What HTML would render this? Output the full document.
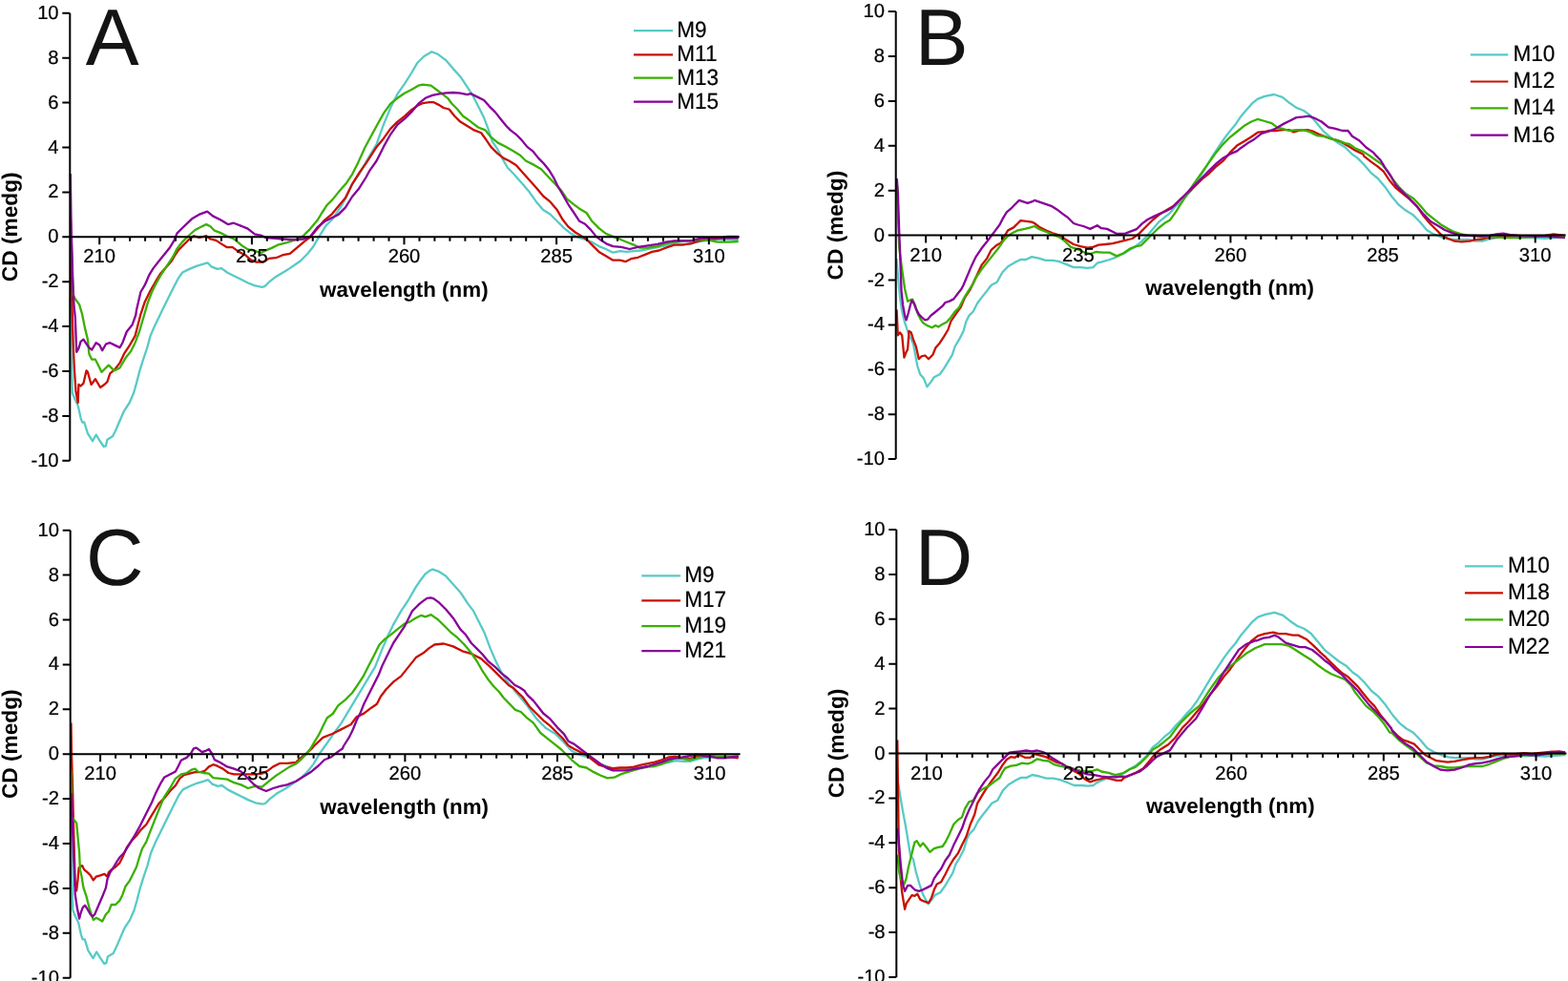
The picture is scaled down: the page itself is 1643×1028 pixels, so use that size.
<!DOCTYPE html><html><head><meta charset="utf-8"><style>html,body{margin:0;padding:0;background:#fff;overflow:hidden;}svg{display:block}text{font-family:"Liberation Sans",Arial,sans-serif;text-rendering:geometricPrecision;}.r{stroke:#000;stroke-width:0.22px;}</style></head><body>
<svg width="1643" height="1028" viewBox="0 0 1643 1028">
<rect width="1643" height="1028" fill="#fff"/>
<g><path d="M73.6,312 L74.2,345 L74.6,368 L75.8,411.8 L78.8,419.1 L81.7,424.9 L84.6,438.1 L86.1,442.5 L88.3,442.5 L91.9,454.2 L97,462.2 L100.7,455.6 L104.3,461.5 L108.7,468 L110.9,467.3 L112.4,460.7 L118.2,457.1 L121.1,451.2 L125.5,441 L129.9,430.8 L135.7,422 L140.1,411.8 L143,401.6 L146,389.9 L149.6,378.2 L154,365.1 L157.6,351.9 L162,341.7 L170.8,323.5 L176.6,311.8 L182.5,300.1 L186.9,291.4 L191.2,285.5 L198.5,281.9 L205.8,278.9 L213.2,276.7 L217.5,275.3 L221.9,279.7 L227.8,281.9 L232.1,281.1 L238,285.5 L245.3,289.2 L252.6,292.8 L259.9,296.5 L267.2,299.4 L274.5,300.8 L277.4,300.1 L281.8,295.7 L289.1,289.9 L297.9,284.8 L303.7,281.1 L310,276.7 L315.1,273.2 L322.4,265.8 L328.2,258.5 L334.1,248.3 L341.4,236.6 L348.7,229.3 L357.4,216.2 L363.3,206 L369.1,192.8 L376.4,182.6 L383.7,169.4 L394.6,151 L401.9,130.6 L409.2,113 L416.5,98.4 L423.8,88.2 L431.1,76.5 L437,66.3 L444.3,59 L452.3,54.2 L458.9,56.8 L467.6,63.4 L474.9,72.1 L482.3,80.2 L489.6,91.1 L495.4,99.9 L501.2,111.6 L507.1,123.3 L511.5,134.9 L515.8,148.1 L521.7,156.9 L526.1,165.6 L531.9,175.8 L537.8,181.7 L547.3,192.4 L554.6,201.1 L561.9,211.4 L569.2,220.1 L576.5,224.5 L583.8,231.8 L591.1,239.1 L598.4,244.9 L605.7,248.6 L613,250.8 L620.3,253.7 L627.6,258.1 L634.9,261 L642.3,264.7 L649.6,263.2 L656.9,263.9 L664.2,263.2 L671.5,262.5 L678.8,261 L686.1,259.6 L693.4,258.1 L700.7,256.6 L708,255.2 L715.3,255.9 L722.6,255.9 L729.9,253.7 L737.2,252.3 L744.5,251.5 L751.8,250.8 L762,250.8 L773.7,250.8" fill="none" stroke="#58cac6" stroke-width="2.3" stroke-linejoin="round"/><path d="M74,230 L74.4,273.8 L75.8,332.2 L76.6,359.2 L78,388.4 L79.5,410.3 L81.7,422 L82.4,403 L84.6,404.5 L87.5,401.6 L90.5,388.4 L91.9,389.9 L95.6,403 L99.9,397.2 L105.1,406 L109.4,403 L112.4,400.1 L115.3,391.4 L120.4,387 L125.5,380.4 L129.9,370.9 L135.7,362.1 L141.6,351.9 L147.4,329.3 L151.8,316.2 L157.6,304.5 L163.5,294.3 L167.9,287 L173.7,280.4 L179.6,273.8 L183.9,266.5 L186.9,262.1 L192.7,256.3 L198.5,250.5 L202.9,247.2 L208.8,249 L216.1,247.2 L220.5,250.5 L226.3,251.9 L232.1,255.6 L238,259.2 L243.8,259.2 L249.7,263.6 L257,267.2 L262.8,272.4 L268.7,274.6 L276,274.6 L281.8,270.9 L289.1,270.2 L296.4,267.2 L303.7,265.8 L319.4,252.7 L325.3,248.3 L332.6,239.6 L339.9,230.8 L347.2,224.9 L354.5,216.2 L361.8,207.4 L369.1,192.8 L376.4,181.1 L383.7,170.9 L394.6,153.9 L401.9,145.2 L409.2,134.9 L416.5,127.6 L423.8,121.8 L431.1,115.2 L438.4,110.1 L442.8,108.2 L450.1,107.2 L454.5,107.2 L460.3,110.1 L464.7,113 L470.6,114.5 L476.4,121.8 L482.3,127.6 L489.6,132 L496.9,136.4 L504.2,139.3 L508.5,145.2 L514.4,153.9 L521.7,161.2 L527.5,165.6 L533.4,168.5 L540.7,172.9 L561.9,196.7 L569.2,205.5 L576.5,211.4 L583.8,220.1 L589.7,230.3 L595.5,237.6 L602.8,243.5 L608.7,247.1 L614.5,250.8 L620.3,256.6 L627.6,263.9 L634.9,268.3 L642.3,272.7 L649.6,272.7 L655.4,274.2 L661.2,271.2 L668.5,269.8 L675.8,266.9 L683.2,263.9 L690.5,262.5 L697.8,259.6 L706.5,256.6 L715.3,256.6 L724.1,255.2 L732.8,252.3 L741.6,250.8 L751.8,250.1 L762,247.9 L773.7,247.9" fill="none" stroke="#c81000" stroke-width="2.3" stroke-linejoin="round"/><path d="M74,243 L74.4,244.6 L75.8,273.8 L76.6,308.9 L78.8,313.3 L83.1,319.1 L86.1,329.3 L89,343.9 L91.9,355.6 L93.4,370.9 L96.3,376.7 L99.9,376.7 L102.9,382.6 L106.5,389.9 L109.4,387 L113.8,382.6 L119.7,388.4 L125.5,385.5 L131.4,375.3 L137.2,368 L141.6,359.2 L146,347.5 L154.7,317.6 L159.1,306 L163.5,297.2 L169.3,287 L175.2,278.2 L181,269.4 L185.4,260.7 L191.2,253.4 L197.1,247.5 L204.4,241 L211.7,237.3 L216.1,235.1 L220.5,237.3 L224.8,241.7 L230.7,243.9 L238,247.5 L245.3,250.5 L254.1,257.8 L259.9,261.4 L267.2,262.9 L273,265.1 L277.4,262.9 L284.7,259.9 L292,256.3 L300.8,254.1 L310,251.2 L318,246.9 L325.3,239.6 L332.6,230.8 L337,223.5 L342.8,214.7 L348.7,208.9 L354.5,201.6 L363.3,191.4 L369.1,182.6 L375,170.9 L382.3,154.8 L394.6,132 L401.9,118.9 L409.2,108.7 L416.5,102.8 L423.8,97.7 L431.1,94 L438.4,89.7 L442.8,88.6 L451.6,89.7 L457.4,94 L463.3,98.4 L469.1,102.8 L473.5,108.7 L479.3,114.5 L485.2,121.8 L489.6,124.7 L495.4,129.1 L501.2,133.5 L508.5,136.4 L514.4,143.7 L521.7,149.6 L529,153.2 L537.8,158.3 L545.1,162.7 L550.9,168.5 L559.7,172.9 L567,177.3 L588.2,199.7 L594,208.4 L601.4,214.3 L607.2,218.7 L614.5,223 L620.3,231.8 L627.6,239.1 L634.9,244.9 L642.3,247.9 L649.6,250.8 L656.9,253.7 L664.2,256.6 L670,259.6 L678.8,259.6 L689,258.1 L697.8,255.2 L706.5,253.7 L715.3,252.3 L724.1,252.3 L732.8,250.8 L741.6,251.5 L751.8,253.7 L763.5,253.7 L773.7,253" fill="none" stroke="#3ab000" stroke-width="2.3" stroke-linejoin="round"/><path d="M73.8,182 L74.5,230 L76,290 L77.5,320 L78.8,332.3 L80.2,368.8 L82.4,365.1 L84.6,357.8 L87.5,355.6 L89.7,359.2 L93.4,364.3 L96.3,366.5 L100.7,359.2 L104.3,361.4 L107.2,367.2 L110.9,360.7 L115.3,359.2 L121.1,362.1 L125.5,364.3 L128.4,359.2 L132.8,347.5 L138.7,340.2 L142.3,330 L143,324.9 L147.4,306 L151.8,298.7 L156.2,288.4 L160.6,281.1 L166.4,273.8 L172.3,266.5 L178.1,259.2 L182.5,251.9 L185.4,244.6 L191.2,238.8 L201.1,229.3 L208.4,224.9 L217.2,221.7 L223,226.4 L231.8,230.8 L239.1,235.2 L244.9,233.7 L252.3,236.6 L259.6,239.6 L266.9,245.4 L274.2,246.9 L278.5,249.1 L288.8,249.8 L296.1,250.5 L304.8,251.2 L310.7,251.2 L318,250.5 L325.3,247.6 L332.6,238.1 L339.9,232.3 L345.7,229.3 L354.5,224.9 L361.8,217.6 L369.1,206 L376.4,197.2 L383.7,185.5 L387.3,178.8 L394.6,168.5 L401.9,153.9 L409.2,140.8 L416.5,130.6 L423.8,124.7 L431.1,117.4 L438.4,108.7 L445.7,102.8 L453,99.9 L460.3,98.4 L467.6,97.4 L474.9,97 L482.3,97.7 L489.6,99.2 L493.2,98.1 L499.8,101.4 L507.1,105 L512.9,111.6 L518.8,117.4 L524.6,124.7 L530.5,132 L534.8,136.4 L540.7,140.8 L546.5,146.6 L552.4,153.9 L558.2,158.3 L564.1,165.6 L569.9,171.5 L575.7,178.8 L580.1,186.1 L583.8,193.8 L589.7,204 L595.5,214.3 L601.4,223 L607.2,231.8 L613,234.7 L618.9,240.6 L624.7,247.9 L630.6,252.3 L636.4,255.9 L642.3,258.1 L651,258.8 L659.8,261 L668.5,258.8 L678.8,257.4 L689,255.9 L697.8,253.7 L706.5,252.3 L715.3,252.3 L724.1,252.3 L732.8,250.1 L741.6,249.3 L751.8,249.3 L762,249.3 L773.7,249.3" fill="none" stroke="#880099" stroke-width="2.3" stroke-linejoin="round"/><path d="M73.3,13.8 V482.8 M65.3,248.3 H774.7 M65.3,482.8 H73.3 M65.3,435.9 H73.3 M65.3,389 H73.3 M65.3,342.1 H73.3 M65.3,295.2 H73.3 M65.3,201.4 H73.3 M65.3,154.5 H73.3 M65.3,107.6 H73.3 M65.3,60.7 H73.3 M65.3,13.8 H73.3 M104.2,248.3 v8 M120.2,248.3 v4.5 M136.1,248.3 v4.5 M152.1,248.3 v4.5 M168.1,248.3 v4.5 M184,248.3 v4.5 M200,248.3 v4.5 M216,248.3 v4.5 M231.9,248.3 v4.5 M247.9,248.3 v4.5 M263.9,248.3 v8 M279.8,248.3 v4.5 M295.8,248.3 v4.5 M311.7,248.3 v4.5 M327.7,248.3 v4.5 M343.7,248.3 v4.5 M359.6,248.3 v4.5 M375.6,248.3 v4.5 M391.6,248.3 v4.5 M407.5,248.3 v4.5 M423.5,248.3 v8 M439.5,248.3 v4.5 M455.4,248.3 v4.5 M471.4,248.3 v4.5 M487.4,248.3 v4.5 M503.3,248.3 v4.5 M519.3,248.3 v4.5 M535.3,248.3 v4.5 M551.2,248.3 v4.5 M567.2,248.3 v4.5 M583.1,248.3 v8 M599.1,248.3 v4.5 M615.1,248.3 v4.5 M631,248.3 v4.5 M647,248.3 v4.5 M663,248.3 v4.5 M678.9,248.3 v4.5 M694.9,248.3 v4.5 M710.9,248.3 v4.5 M726.8,248.3 v4.5 M742.8,248.3 v8 M758.8,248.3 v4.5" fill="none" stroke="#000" stroke-width="2"/><text x="61.6" y="488.8" font-size="20.2" text-anchor="end" class="r">-10</text><text x="61.6" y="441.9" font-size="20.2" text-anchor="end" class="r">-8</text><text x="61.6" y="395" font-size="20.2" text-anchor="end" class="r">-6</text><text x="61.6" y="348.1" font-size="20.2" text-anchor="end" class="r">-4</text><text x="61.6" y="301.2" font-size="20.2" text-anchor="end" class="r">-2</text><text x="61.6" y="254.3" font-size="20.2" text-anchor="end" class="r">0</text><text x="61.6" y="207.4" font-size="20.2" text-anchor="end" class="r">2</text><text x="61.6" y="160.5" font-size="20.2" text-anchor="end" class="r">4</text><text x="61.6" y="113.6" font-size="20.2" text-anchor="end" class="r">6</text><text x="61.6" y="66.7" font-size="20.2" text-anchor="end" class="r">8</text><text x="61.6" y="19.8" font-size="20.2" text-anchor="end" class="r">10</text><text x="104.2" y="275.3" font-size="20.2" text-anchor="middle" class="r">210</text><text x="263.9" y="275.3" font-size="20.2" text-anchor="middle" class="r">235</text><text x="423.5" y="275.3" font-size="20.2" text-anchor="middle" class="r">260</text><text x="583.1" y="275.3" font-size="20.2" text-anchor="middle" class="r">285</text><text x="742.8" y="275.3" font-size="20.2" text-anchor="middle" class="r">310</text><text x="423.3" y="310.7" font-size="22.4" font-weight="bold" text-anchor="middle">wavelength (nm)</text><text transform="translate(17.7,237.8) rotate(-90)" font-size="22.7" font-weight="bold" text-anchor="middle">CD (medg)</text><text x="89.8" y="67.7" font-size="83.8" fill="#141414">A</text><path d="M664,32.1 H705" stroke="#58cac6" stroke-width="2.2"/><text transform="translate(709.3,39) scale(0.955,1)" font-size="23.6" class="r">M9</text><path d="M664,57.4 H705" stroke="#c81000" stroke-width="2.2"/><text transform="translate(709.3,64.2) scale(0.955,1)" font-size="23.6" class="r">M11</text><path d="M664,81.6 H705" stroke="#3ab000" stroke-width="2.2"/><text transform="translate(709.3,88.5) scale(0.955,1)" font-size="23.6" class="r">M13</text><path d="M664,106.7 H705" stroke="#880099" stroke-width="2.2"/><text transform="translate(709.3,113.6) scale(0.955,1)" font-size="23.6" class="r">M15</text></g>
<g><path d="M939.4,271 L943,311.9 L945.2,326.5 L948.1,338.2 L951.1,347 L954,354.3 L956.9,360.1 L959.1,371.8 L961.3,383.5 L964.2,392.3 L967.9,396.6 L971.5,405.4 L975.9,399.6 L978.8,395.2 L984.7,392.3 L989,386.4 L993.4,379.1 L997.8,371.8 L1000.7,363 L1005.1,355.7 L1009.5,347 L1012.4,336.7 L1015.3,330.9 L1019.7,326.5 L1024.1,317.8 L1028.5,311.9 L1034.3,304.6 L1038.7,298.8 L1044.6,295.8 L1050.4,285.2 L1056.2,279.3 L1063.5,274.9 L1069.4,272 L1075.2,272 L1081.1,269.1 L1088.4,270.6 L1095.7,272.8 L1103,272.8 L1110.3,274.2 L1117.6,277.1 L1124.9,280.1 L1132.2,280.1 L1139.5,280.8 L1145.3,280.1 L1149.7,275.7 L1155.6,274.2 L1162.9,272 L1168.7,269.8 L1177.4,265.7 L1183.5,262.1 L1189.6,258.4 L1195.6,253.6 L1201.7,247.5 L1207.8,240.2 L1213.9,232.9 L1220,228 L1226.1,223.1 L1232.2,215.8 L1237.6,211.9 L1247.4,200.2 L1253.2,192.4 L1259.1,182.7 L1264.9,173 L1270.8,163.2 L1276.6,154.5 L1282.4,145.7 L1288.3,137.9 L1294.1,131.1 L1300,122.3 L1305.8,115.5 L1311.7,108.7 L1317.5,103.8 L1325.3,100.9 L1335,99 L1343.8,101.9 L1351.1,107.8 L1358.4,112.9 L1365.7,115.8 L1373,120.9 L1380.3,129.7 L1387.6,138.4 L1394.9,144.3 L1402.3,150.1 L1409.6,154.5 L1416.9,161.8 L1421.9,165.1 L1429.2,172.4 L1436.5,181.1 L1443.8,187 L1451.1,195.7 L1458.4,206 L1465.7,214.7 L1473,220.6 L1480.3,224.9 L1487.6,232.3 L1494.9,241 L1502.3,245.4 L1509.6,248.3 L1516.9,250.5 L1524.2,251.2 L1531.5,251.2 L1538.8,251.2 L1546.1,252.7 L1553.4,252.7 L1560.7,250.5 L1568,249.1 L1575.3,248.3 L1582.6,249.1 L1589.9,249.1 L1604.5,249.1 L1619.1,249.8 L1640,248.3" fill="none" stroke="#58cac6" stroke-width="2.3" stroke-linejoin="round"/><path d="M939.6,324.5 L940.8,351.4 L943,348.4 L945.2,351.4 L947.4,374.7 L949.6,368.9 L951.1,366 L952.5,347 L954.7,348.4 L956.9,355.7 L959.8,363 L962.8,376.2 L965.7,373.3 L969.3,372.5 L973,376.2 L977.4,371.8 L980.3,364.5 L984.7,359.4 L989,352.8 L993.4,345.5 L996.4,336.7 L1002.2,328 L1006.6,322.1 L1011,311.9 L1016.8,303.1 L1028.5,277.9 L1034.3,270.6 L1038.7,261.8 L1044.6,256.7 L1048.9,254.5 L1051.9,248.7 L1056.2,241.4 L1062.1,238.4 L1066.5,234 L1069.4,231.1 L1075.2,231.9 L1081.1,232.6 L1084,234 L1089.8,238.4 L1095.7,241.4 L1103,244.3 L1110.3,246.5 L1117.6,251.6 L1124.9,256 L1132.2,258.1 L1139.5,259.6 L1145.3,258.9 L1151.2,256.7 L1158.5,256 L1165.8,255.2 L1186.5,250 L1193.8,244.6 L1201.1,237.3 L1208.4,230 L1215.7,224.2 L1223,219.8 L1230.3,215.4 L1237.6,208.1 L1244.9,202.3 L1252.3,194.9 L1259.6,187.6 L1266.9,181.8 L1274.2,174.5 L1281.5,168.7 L1288.8,159.9 L1296.1,152.6 L1303.4,148.2 L1310.7,143.8 L1318,138.7 L1325.3,138 L1329.2,137 L1336.5,137 L1343.8,136.2 L1351.1,136.2 L1355.5,138.4 L1361.4,136.7 L1370.1,136.2 L1376,137.7 L1381.8,140.6 L1387.6,142.8 L1393.5,145 L1399.3,146.5 L1405.2,148.7 L1413.9,153.8 L1419.8,157.4 L1428.5,161.8 L1429.2,163.6 L1436.5,169.4 L1443.8,174.6 L1449.7,179.7 L1455.5,188.4 L1462.8,197.2 L1470.1,203 L1477.4,208.9 L1484.7,216.2 L1490.6,224.9 L1497.9,233.7 L1505.2,241 L1511,246.9 L1516.9,249.8 L1524.2,252.7 L1531.5,253.4 L1540.2,252.7 L1546.1,251.2 L1553.4,250.5 L1560.7,248.3 L1568,248.3 L1575.3,247.6 L1589.9,246.9 L1604.5,247.6 L1619.1,246.9 L1627.9,245.4 L1640,246.9" fill="none" stroke="#c81000" stroke-width="2.3" stroke-linejoin="round"/><path d="M940.2,195 L940.8,223.8 L942.3,260.3 L945.2,282.3 L948.1,302.7 L951.1,315.8 L954,314.4 L956.2,313.7 L959.1,320.2 L961.3,328 L964.2,333.8 L967.1,338.2 L971.5,341.1 L976.6,343.3 L980.3,341.1 L983.2,342.6 L987.6,339.7 L992,337.5 L996.4,332.4 L1000.7,326.5 L1005.1,322.1 L1009.5,313.4 L1013.9,306.1 L1019.7,297.3 L1022.6,291 L1028.5,282.3 L1034.3,274.9 L1040.2,267.6 L1046,260.3 L1051.9,251.6 L1056.2,247.2 L1060.6,244.3 L1066.5,241.4 L1073.8,239.9 L1079.6,238.4 L1084,237 L1088.4,239.9 L1095.7,242.8 L1103,245.7 L1110.3,248.7 L1116.1,253 L1122,258.9 L1129.3,261.1 L1136.6,264.7 L1142.4,266.2 L1148.3,264 L1155.6,264.7 L1162.9,264.7 L1170.2,268.4 L1177.4,265.3 L1183.5,260.9 L1189.6,258.4 L1195.6,257.2 L1201.7,251.1 L1207.8,245 L1213.9,239 L1220,234.1 L1226.1,230.4 L1232.2,221.9 L1238.2,212.2 L1239.1,211 L1246.4,199.3 L1252.3,190.6 L1259.6,180.3 L1266.9,170.1 L1274.2,159.9 L1281.5,151.1 L1288.8,143.8 L1296.1,138 L1303.4,132.1 L1310.7,127.8 L1318,124.8 L1325.3,127 L1332.6,129.2 L1338.4,133.6 L1343.8,134.8 L1351.1,137 L1358.4,136.2 L1365.7,136.2 L1373,138.4 L1380.3,142.1 L1387.6,142.8 L1394.9,145.7 L1402.3,147.2 L1409.6,150.1 L1413.9,150.8 L1419.8,155.2 L1428.5,158.9 L1433.6,162.1 L1440.9,167.2 L1448.2,172.4 L1454,179.7 L1459.9,188.4 L1465.7,195.7 L1473,203 L1480.3,207.4 L1487.6,214.7 L1494.9,223.5 L1502.3,229.3 L1509.6,235.2 L1516.9,239.6 L1524.2,243.2 L1531.5,245.4 L1538.8,246.9 L1546.1,247.6 L1553.4,248.3 L1560.7,247.6 L1575.3,249.1 L1589.9,249.1 L1604.5,248.3 L1619.1,247.6 L1640,246.9" fill="none" stroke="#3ab000" stroke-width="2.3" stroke-linejoin="round"/><path d="M939.8,187 L940.8,201.9 L941.6,223.8 L942.3,245.7 L943,261.8 L944.5,304.6 L946,319.2 L948.1,330.9 L949.6,335.3 L951.8,328 L954,319.2 L955.5,314.8 L957.6,317.8 L959.8,323.6 L962.8,329.4 L965.7,332.4 L969.3,335.3 L972.2,334.6 L975.2,330.9 L978.8,328 L983.2,324.3 L987.6,320.7 L990.5,317 L994.9,315.6 L999.3,313.4 L1003.7,307.5 L1007.3,303.1 L1009.5,298.8 L1018.3,277.9 L1022.6,269.1 L1028.5,260.3 L1034.3,253 L1038.7,247.2 L1043.1,241.4 L1047.5,235.5 L1050.4,229.7 L1054.8,222.4 L1059.2,218.7 L1063.5,214.3 L1067.9,209.9 L1072.3,211.4 L1076.7,212.9 L1081.1,211.4 L1084,209.9 L1088.4,211.4 L1092.8,212.9 L1097.1,214.3 L1101.5,215.8 L1107.4,219.4 L1113.2,223.8 L1119.1,228.2 L1124.9,234 L1129.3,235.5 L1135.1,237 L1142.4,239.9 L1149.7,236.2 L1154.1,239.2 L1160,239.9 L1165.8,242.8 L1170.2,245 L1179.2,244.6 L1185.1,242.4 L1190.9,240.2 L1196.7,234.4 L1202.6,230 L1208.4,227.1 L1214.3,224.2 L1221.6,221.2 L1227.4,218.3 L1233.3,212.5 L1240.6,205.2 L1246.4,199.3 L1252.3,193.5 L1259.6,186.2 L1266.9,178.9 L1274.2,171.6 L1281.5,165.7 L1288.8,161.4 L1296.1,158.4 L1300,155.2 L1307.3,150.1 L1314.6,145.7 L1321.9,139.9 L1329.2,137.7 L1336.5,134.8 L1343.8,130.4 L1351.1,126.7 L1358.4,123.1 L1365.7,122.4 L1371.6,121.6 L1377.4,123.8 L1384.7,127.5 L1392,133.3 L1399.3,134.8 L1406.6,137 L1412.5,137 L1416.9,142.8 L1424.2,147.2 L1431.5,154.5 L1438.8,159.6 L1440.9,162.1 L1446.7,168 L1451.1,175.3 L1457,184 L1462.8,194.3 L1470.1,201.6 L1477.4,208.9 L1484.7,216.2 L1492,224.9 L1499.3,232.3 L1506.6,236.6 L1513.9,241 L1521.2,243.9 L1528.5,246.1 L1535.8,246.9 L1546.1,246.9 L1553.4,247.6 L1560.7,246.9 L1568,245.4 L1575.3,244.7 L1582.6,246.1 L1589.9,246.9 L1604.5,247.6 L1619.1,247.6 L1640,249.1" fill="none" stroke="#880099" stroke-width="2.3" stroke-linejoin="round"/><path d="M938.7,12.1 V481.1 M930.7,246.6 H1640.6 M930.7,481.1 H938.7 M930.7,434.2 H938.7 M930.7,387.3 H938.7 M930.7,340.4 H938.7 M930.7,293.5 H938.7 M930.7,199.7 H938.7 M930.7,152.8 H938.7 M930.7,105.9 H938.7 M930.7,59 H938.7 M930.7,12.1 H938.7 M970.1,246.6 v8 M986.1,246.6 v4.5 M1002,246.6 v4.5 M1018,246.6 v4.5 M1034,246.6 v4.5 M1049.9,246.6 v4.5 M1065.9,246.6 v4.5 M1081.9,246.6 v4.5 M1097.8,246.6 v4.5 M1113.8,246.6 v4.5 M1129.8,246.6 v8 M1145.7,246.6 v4.5 M1161.7,246.6 v4.5 M1177.6,246.6 v4.5 M1193.6,246.6 v4.5 M1209.6,246.6 v4.5 M1225.5,246.6 v4.5 M1241.5,246.6 v4.5 M1257.5,246.6 v4.5 M1273.4,246.6 v4.5 M1289.4,246.6 v8 M1305.4,246.6 v4.5 M1321.3,246.6 v4.5 M1337.3,246.6 v4.5 M1353.3,246.6 v4.5 M1369.2,246.6 v4.5 M1385.2,246.6 v4.5 M1401.2,246.6 v4.5 M1417.1,246.6 v4.5 M1433.1,246.6 v4.5 M1449,246.6 v8 M1465,246.6 v4.5 M1481,246.6 v4.5 M1496.9,246.6 v4.5 M1512.9,246.6 v4.5 M1528.9,246.6 v4.5 M1544.8,246.6 v4.5 M1560.8,246.6 v4.5 M1576.8,246.6 v4.5 M1592.7,246.6 v4.5 M1608.7,246.6 v8 M1624.7,246.6 v4.5" fill="none" stroke="#000" stroke-width="2"/><text x="927" y="487.1" font-size="20.2" text-anchor="end" class="r">-10</text><text x="927" y="440.2" font-size="20.2" text-anchor="end" class="r">-8</text><text x="927" y="393.3" font-size="20.2" text-anchor="end" class="r">-6</text><text x="927" y="346.4" font-size="20.2" text-anchor="end" class="r">-4</text><text x="927" y="299.5" font-size="20.2" text-anchor="end" class="r">-2</text><text x="927" y="252.6" font-size="20.2" text-anchor="end" class="r">0</text><text x="927" y="205.7" font-size="20.2" text-anchor="end" class="r">2</text><text x="927" y="158.8" font-size="20.2" text-anchor="end" class="r">4</text><text x="927" y="111.9" font-size="20.2" text-anchor="end" class="r">6</text><text x="927" y="65" font-size="20.2" text-anchor="end" class="r">8</text><text x="927" y="18.1" font-size="20.2" text-anchor="end" class="r">10</text><text x="970.1" y="273.6" font-size="20.2" text-anchor="middle" class="r">210</text><text x="1129.8" y="273.6" font-size="20.2" text-anchor="middle" class="r">235</text><text x="1289.4" y="273.6" font-size="20.2" text-anchor="middle" class="r">260</text><text x="1449" y="273.6" font-size="20.2" text-anchor="middle" class="r">285</text><text x="1608.7" y="273.6" font-size="20.2" text-anchor="middle" class="r">310</text><text x="1288.7" y="309" font-size="22.4" font-weight="bold" text-anchor="middle">wavelength (nm)</text><text transform="translate(883.1,236.1) rotate(-90)" font-size="22.7" font-weight="bold" text-anchor="middle">CD (medg)</text><text x="958.7" y="67.7" font-size="83.8" fill="#141414">B</text><path d="M1540.8,57.3 H1580.3" stroke="#58cac6" stroke-width="2.2"/><text transform="translate(1585.4,64.2) scale(0.955,1)" font-size="23.6" class="r">M10</text><path d="M1540.8,85.5 H1580.3" stroke="#c81000" stroke-width="2.2"/><text transform="translate(1585.4,92.4) scale(0.955,1)" font-size="23.6" class="r">M12</text><path d="M1540.8,113.3 H1580.3" stroke="#3ab000" stroke-width="2.2"/><text transform="translate(1585.4,120.2) scale(0.955,1)" font-size="23.6" class="r">M14</text><path d="M1540.8,141.6 H1580.3" stroke="#880099" stroke-width="2.2"/><text transform="translate(1585.4,148.5) scale(0.955,1)" font-size="23.6" class="r">M16</text></g>
<g><path d="M74.1,853.9 L74.7,886.9 L75.1,909.9 L76.3,953.7 L79.3,961 L82.2,966.8 L85.1,980 L86.6,984.4 L88.8,984.4 L92.4,996.1 L97.5,1004.1 L101.2,997.5 L104.8,1003.4 L109.2,1009.9 L111.4,1009.2 L112.9,1002.6 L118.7,999 L121.6,993.1 L126,982.9 L130.4,972.7 L136.2,963.9 L140.6,953.7 L143.5,943.5 L146.5,931.8 L150.1,920.1 L154.5,907 L158.1,893.8 L162.5,883.6 L171.3,865.4 L177.1,853.7 L183,842 L187.4,833.3 L191.7,827.4 L199,823.8 L206.3,820.8 L213.7,818.6 L218,817.2 L222.4,821.6 L228.3,823.8 L232.6,823 L238.5,827.4 L245.8,831.1 L253.1,834.7 L260.4,838.4 L267.7,841.3 L275,842.7 L277.9,842 L282.3,837.6 L289.6,831.8 L298.4,826.7 L304.2,823 L310.5,818.6 L315.6,815.1 L322.9,807.7 L328.7,800.4 L334.6,790.2 L340.4,782 L348.2,770.9 L357.9,757.3 L363.7,747.6 L369.6,737.8 L375.4,728.1 L381.3,718.3 L387.1,708.6 L393,698.9 L396.9,689.1 L400.8,679.4 L404.7,670.6 L406.6,665.7 L409.5,659.9 L412.4,654.1 L416.3,647.2 L420.2,640.4 L424.1,634.6 L428,628.7 L431.9,621.9 L435.8,615.1 L439.7,609.3 L445.6,601.5 L449.4,598.6 L453.3,596.6 L459.2,598.6 L467,603.4 L474.8,612.2 L482.6,621 L490.3,632.6 L496.2,640.4 L502,652.1 L507.9,663.8 L513.7,679.4 L519.6,693 L525.4,704.7 L533.2,716.4 L542.9,728.1 L552.7,739.8 L562.4,753.4 L572.1,763.1 L581.9,769 L591.6,778.7 L598.9,786.8 L606.2,790.5 L613.5,792.7 L620.8,795.6 L628.1,800 L635.4,802.9 L642.8,806.6 L650.1,805.1 L657.4,805.8 L664.7,805.1 L672,804.4 L679.3,802.9 L686.6,801.5 L693.9,800 L701.2,798.5 L708.5,797.1 L715.8,797.8 L723.1,797.8 L730.4,795.6 L737.7,794.2 L745,793.4 L752.3,792.7 L762.5,792.7 L774.2,792.7" fill="none" stroke="#58cac6" stroke-width="2.3" stroke-linejoin="round"/><path d="M74.5,757.5 L75,790 L75.8,815.8 L77.3,874.3 L78.8,927.5 L80.2,933.4 L81.7,920.2 L82.6,909.4 L85.3,907.5 L86.1,907.1 L88.3,911.4 L91.9,914.4 L94.8,917.3 L97.8,922.4 L100.7,918.7 L105.1,917.3 L109.4,915.8 L112.4,918.7 L113.8,914.4 L116.7,911.4 L121.1,908.5 L125.5,904.1 L128.4,898.3 L132.8,888.1 L138.7,880.1 L143,875.7 L147.4,869.9 L153.3,864 L157.6,856.7 L162,849.4 L166.4,842.1 L172.3,836.3 L178.1,829 L183.9,823.1 L188.3,815.8 L192.7,812.2 L198.5,810.7 L204.4,809.2 L210.2,809.2 L214.6,807.8 L219,803.4 L223.4,801.2 L227.8,802.7 L233.6,805.6 L239.4,810 L245.3,811.4 L252.6,811.4 L259.9,811.4 L267.2,811.4 L274.5,810.7 L280.3,807.8 L286.2,803.4 L293.5,799.8 L300.8,799.8 L310,799 L312.1,796.9 L316.5,793.2 L320.9,789.6 L326.7,784.5 L328.7,782 L338.4,772.9 L348.2,769 L357.9,764.1 L367.6,759.2 L373.5,751.4 L381.3,747.6 L389.1,741.7 L394.9,737.8 L398.8,730 L404.7,722.2 L412.4,714.4 L420.2,708.6 L428,698.9 L435.8,689.1 L443.6,684.3 L449.4,679.4 L455.3,675.5 L465,674.5 L474.8,677.4 L484.5,682.3 L494.2,685.2 L504,690.1 L513.7,698.9 L523.5,708.6 L533.2,718.3 L537.8,720.8 L543.6,726.6 L547.3,730 L554.6,740.2 L561.9,747.5 L569.2,754.8 L576.5,760.7 L583.8,768 L589.7,773.8 L595.5,781.1 L601.4,784.8 L608.7,788.4 L616,792.1 L621.8,797.2 L627.6,801.6 L634.9,803.7 L642.3,805.2 L649.6,804.5 L656.9,804.5 L664.2,803.7 L671.5,801.6 L678.8,800.1 L686.1,798.6 L693.4,796.4 L700.7,793.5 L708,792.8 L715.3,794.3 L722.6,795 L729.9,792.8 L737.2,792.1 L744.5,792.1 L751.8,792.8 L759.1,792.8 L766.4,793.5 L773.7,794.3" fill="none" stroke="#c81000" stroke-width="2.3" stroke-linejoin="round"/><path d="M74.5,807.7 L75.1,855.3 L80.2,862.6 L83.1,893.2 L83.9,911.4 L85.3,917.3 L87.5,930.4 L90.5,939.2 L93.4,950.9 L96.3,959.6 L97.8,964 L100.7,961.8 L103.6,963.3 L107.2,965.5 L110.9,958.2 L113.8,955.3 L116.7,948 L121.1,948 L125.5,943.6 L128.4,937.7 L131.4,929 L135.7,923.1 L138.7,917.3 L143,908.5 L146,898.3 L148.9,889.5 L153.3,882.2 L156.2,874.3 L162,859.6 L167.9,845 L172.3,834.8 L178.1,826 L183.9,815.8 L189.8,811.4 L195.6,810 L201.5,806.3 L204.4,805.6 L207.3,808.5 L213.2,810 L219,810.7 L223.4,815.1 L230.7,815.8 L238,816.6 L245.3,820.2 L252.6,822.4 L259.9,826 L267.2,823.9 L274.5,824.6 L281.8,818.7 L289.1,812.9 L297.9,807.1 L303.7,803.4 L310,800.5 L315.1,796.2 L320.9,790.3 L325.3,784.5 L329.7,777.2 L334.1,769.9 L338.4,761.1 L342.8,752.3 L348.7,748 L354.5,739.2 L361.8,733.4 L369.1,726 L375,717.3 L380.8,708.5 L385.2,699.8 L391.7,687.2 L397.5,675.5 L403.4,669.6 L409.2,665.3 L416.5,659.4 L423.8,653.6 L429.7,651.4 L435.5,647.7 L441.4,644.8 L445.7,646.3 L451.6,644.1 L458.9,649.2 L464.7,655 L472,662.3 L479.3,668.2 L486.6,675.5 L493.9,684.3 L499.8,693 L505.6,703.2 L511.5,712 L517.3,719.3 L523.2,725.2 L527.5,731 L540,743.9 L545.8,746 L551.7,751.9 L559,757.7 L566.3,768 L573.6,773.8 L580.9,779.6 L588.2,785.5 L594,791.3 L599.9,797.2 L607.2,803 L614.5,804.5 L621.8,808.9 L629.1,812.5 L636.4,815.4 L643.7,814.7 L651,811.1 L658.3,808.9 L665.6,806.7 L671.5,805.2 L678.8,803.7 L686.1,803 L693.4,800.8 L700.7,797.9 L708,794.3 L715.3,795 L722.6,796.4 L729.9,794.3 L737.2,792.8 L744.5,792.1 L751.8,792.8 L759.1,792.8 L766.4,792.8 L773.7,792.1" fill="none" stroke="#3ab000" stroke-width="2.3" stroke-linejoin="round"/><path d="M74.5,831 L78.8,937.7 L81,952.3 L83.1,962.6 L84.6,956.7 L86.8,950.9 L89,948.7 L91.9,953.1 L94.8,958.2 L97,960.4 L99.2,958.2 L103.6,948 L108,937.7 L110.9,930.4 L112.4,921.7 L115.3,914.4 L118.2,910 L122.6,902.7 L125.5,898.3 L129.9,893.9 L134.3,886.6 L138.7,879.3 L140.1,877.2 L146,866.9 L150.3,858.2 L154.7,849.4 L159.1,840.7 L163.5,830.4 L167.9,821.7 L172.3,814.4 L178.1,811.4 L183.9,808.5 L186.9,802.7 L189.8,796.8 L195.6,793.9 L200,789.5 L202.9,784.4 L205.8,783.7 L211.7,788.1 L216.1,786.6 L219,785.1 L221.9,789.5 L224.8,796.1 L230.7,799 L238,803.4 L245.3,805.6 L252.6,808.5 L259.9,815.8 L265.7,821.7 L271.6,826 L278.9,829 L286.2,826 L293.5,823.9 L300.8,822.4 L310,818.7 L318,813.7 L325.3,809.3 L334.1,802 L339.9,796.2 L347.2,793.2 L354.5,787.4 L358.9,784.5 L359.9,782 L365.7,772.9 L369.6,765.1 L373.5,755.3 L377.4,747.6 L381.3,737.8 L385.2,730 L389.1,722.2 L393,714.4 L396.9,706.7 L400.8,696.9 L404.7,689.1 L408.5,681.3 L412.4,673.5 L416.3,667.7 L420.2,661.9 L424.1,656 L428,648.2 L431.9,640.4 L435.8,636.5 L439.7,632.6 L443.6,629.7 L447.5,626.8 L451.4,626.4 L454.5,627.3 L460.3,631.7 L467.6,639 L474.9,647.7 L482.3,659.4 L488.1,665.3 L493.9,674 L499.8,679.9 L505.6,685.7 L511.5,693 L518.8,698.9 L526.1,706.2 L531.9,710.5 L539.2,717.8 L545.1,720.8 L549.4,723.7 L552.4,728.1 L559,734.4 L564.8,741.7 L569.2,747.5 L576.5,753.4 L583.8,762.1 L591.1,769.4 L595.5,776.7 L601.4,779.6 L607.2,784 L613,788.4 L618.9,792.8 L624.7,797.2 L630.6,801.6 L636.4,805.2 L642.3,807.4 L649.6,807.4 L656.9,807.4 L664.2,805.9 L671.5,804.5 L678.8,803 L686.1,800.8 L693.4,798.6 L700.7,795.7 L708,794.3 L715.3,793.5 L722.6,792.1 L729.9,790.6 L737.2,792.1 L744.5,792.8 L751.8,794.3 L759.1,794.3 L766.4,793.5 L773.7,792.8" fill="none" stroke="#880099" stroke-width="2.3" stroke-linejoin="round"/><path d="M73.7,555.7 V1024.7 M65.7,790.2 H775.6 M65.7,1024.7 H73.7 M65.7,977.8 H73.7 M65.7,930.9 H73.7 M65.7,884 H73.7 M65.7,837.1 H73.7 M65.7,743.3 H73.7 M65.7,696.4 H73.7 M65.7,649.5 H73.7 M65.7,602.6 H73.7 M65.7,555.7 H73.7 M105.1,790.2 v8 M121.1,790.2 v4.5 M137,790.2 v4.5 M153,790.2 v4.5 M169,790.2 v4.5 M184.9,790.2 v4.5 M200.9,790.2 v4.5 M216.9,790.2 v4.5 M232.8,790.2 v4.5 M248.8,790.2 v4.5 M264.8,790.2 v8 M280.7,790.2 v4.5 M296.7,790.2 v4.5 M312.6,790.2 v4.5 M328.6,790.2 v4.5 M344.6,790.2 v4.5 M360.5,790.2 v4.5 M376.5,790.2 v4.5 M392.5,790.2 v4.5 M408.4,790.2 v4.5 M424.4,790.2 v8 M440.4,790.2 v4.5 M456.3,790.2 v4.5 M472.3,790.2 v4.5 M488.3,790.2 v4.5 M504.2,790.2 v4.5 M520.2,790.2 v4.5 M536.2,790.2 v4.5 M552.1,790.2 v4.5 M568.1,790.2 v4.5 M584,790.2 v8 M600,790.2 v4.5 M616,790.2 v4.5 M631.9,790.2 v4.5 M647.9,790.2 v4.5 M663.9,790.2 v4.5 M679.8,790.2 v4.5 M695.8,790.2 v4.5 M711.8,790.2 v4.5 M727.7,790.2 v4.5 M743.7,790.2 v8 M759.7,790.2 v4.5" fill="none" stroke="#000" stroke-width="2"/><text x="62" y="1030.7" font-size="20.2" text-anchor="end" class="r">-10</text><text x="62" y="983.8" font-size="20.2" text-anchor="end" class="r">-8</text><text x="62" y="936.9" font-size="20.2" text-anchor="end" class="r">-6</text><text x="62" y="890" font-size="20.2" text-anchor="end" class="r">-4</text><text x="62" y="843.1" font-size="20.2" text-anchor="end" class="r">-2</text><text x="62" y="796.2" font-size="20.2" text-anchor="end" class="r">0</text><text x="62" y="749.3" font-size="20.2" text-anchor="end" class="r">2</text><text x="62" y="702.4" font-size="20.2" text-anchor="end" class="r">4</text><text x="62" y="655.5" font-size="20.2" text-anchor="end" class="r">6</text><text x="62" y="608.6" font-size="20.2" text-anchor="end" class="r">8</text><text x="62" y="561.7" font-size="20.2" text-anchor="end" class="r">10</text><text x="105.1" y="817.2" font-size="20.2" text-anchor="middle" class="r">210</text><text x="264.8" y="817.2" font-size="20.2" text-anchor="middle" class="r">235</text><text x="424.4" y="817.2" font-size="20.2" text-anchor="middle" class="r">260</text><text x="584" y="817.2" font-size="20.2" text-anchor="middle" class="r">285</text><text x="743.7" y="817.2" font-size="20.2" text-anchor="middle" class="r">310</text><text x="423.7" y="852.6" font-size="22.4" font-weight="bold" text-anchor="middle">wavelength (nm)</text><text transform="translate(18.1,779.7) rotate(-90)" font-size="22.7" font-weight="bold" text-anchor="middle">CD (medg)</text><text x="89.9" y="612.6" font-size="83.8" fill="#141414">C</text><path d="M672.3,603.3 H713.1" stroke="#58cac6" stroke-width="2.2"/><text transform="translate(717.2,610.2) scale(0.955,1)" font-size="23.6" class="r">M9</text><path d="M672.3,629.3 H713.1" stroke="#c81000" stroke-width="2.2"/><text transform="translate(717.2,636.2) scale(0.955,1)" font-size="23.6" class="r">M17</text><path d="M672.3,656.1 H713.1" stroke="#3ab000" stroke-width="2.2"/><text transform="translate(717.2,663) scale(0.955,1)" font-size="23.6" class="r">M19</text><path d="M672.3,682.1 H713.1" stroke="#880099" stroke-width="2.2"/><text transform="translate(717.2,689) scale(0.955,1)" font-size="23.6" class="r">M21</text></g>
<g><path d="M940.2,815.1 L942.9,831.8 L945.7,848.4 L948.5,863.2 L951.3,879.8 L954,896.5 L956.8,900.1 L959.6,913.1 L963.3,926 L967,937.1 L972.5,947.3 L976.5,942.5 L979.4,938.1 L985.3,935.2 L989.6,929.3 L994,922 L998.4,914.7 L1001.3,905.9 L1005.7,898.6 L1010.1,889.9 L1013,879.6 L1015.9,873.8 L1020.3,869.4 L1024.7,860.7 L1029.1,854.8 L1034.9,847.5 L1039.3,841.7 L1045.2,838.7 L1051,828.1 L1056.8,822.2 L1064.1,817.8 L1070,814.9 L1075.8,814.9 L1081.7,812 L1089,813.5 L1096.3,815.7 L1103.6,815.7 L1110.9,817.1 L1118.2,820 L1125.5,823 L1132.8,823 L1140.1,823.7 L1145.9,823 L1148.2,820.9 L1153,818.5 L1159.1,816 L1165.2,813.6 L1171.3,814.2 L1177.4,810 L1183.5,806.3 L1189.6,802.6 L1195.6,797.8 L1201.7,791.7 L1207.8,783.2 L1213.9,778.3 L1220,772.2 L1226.1,767.3 L1232.2,760 L1238.2,754 L1244.3,746.7 L1248,743.1 L1253.8,735.3 L1259.7,725.6 L1265.5,715.9 L1271.4,706.1 L1277.2,697.4 L1283,688.6 L1288.9,680.8 L1294.7,674 L1300.6,665.2 L1306.4,658.4 L1312.3,651.6 L1318.1,646.7 L1325.9,643.8 L1335.6,641.9 L1344.4,644.8 L1351.7,650.7 L1359,655.8 L1366.3,658.7 L1373.6,663.8 L1380.9,672.6 L1388.2,681.3 L1395.5,687.2 L1402.9,693 L1410.2,697.4 L1417.5,704.7 L1422.5,708 L1429.8,715.3 L1437.1,724 L1444.4,729.9 L1451.7,738.6 L1459,748.9 L1466.3,757.6 L1473.6,763.5 L1480.9,767.8 L1488.2,775.2 L1495.5,783.9 L1502.9,788.3 L1510.2,791.2 L1517.5,793.4 L1524.8,794.1 L1532.1,794.1 L1539.4,794.1 L1546.7,795.6 L1554,795.6 L1561.3,793.4 L1568.6,792 L1575.9,791.2 L1583.2,792 L1590.5,792 L1605.1,792 L1619.7,792.7 L1640.6,791.2" fill="none" stroke="#58cac6" stroke-width="2.3" stroke-linejoin="round"/><path d="M940.3,775.5 L940.6,800 L941.6,873.9 L943,913.3 L945.2,935.3 L948.1,952.8 L949.6,946.9 L952.5,942.6 L955.5,938.2 L958.4,938.9 L961.3,936.7 L964.2,942.6 L968.6,944.7 L973,946.2 L975.9,941.1 L978.8,932.3 L981.7,926.5 L986.1,924.3 L990.5,916.3 L994.9,907.5 L999.3,900.2 L1003.7,894.4 L1008,885.6 L1012.4,876.8 L1016.8,863.7 L1021.2,853.5 L1024.1,841.8 L1031.4,829.6 L1037.3,820.9 L1041.6,815 L1046,809.2 L1050.4,801.9 L1054.8,796 L1059.2,793.1 L1063.5,793.8 L1067.9,790.9 L1073.8,793.8 L1079.6,793.8 L1084,790.2 L1089.8,791.7 L1095.7,793.1 L1101.5,796 L1107.4,799 L1113.2,800.4 L1119.1,804.8 L1124.9,807.7 L1130.7,810.6 L1136.6,816.5 L1142.4,819.4 L1146.8,817.9 L1152.7,816.5 L1158.5,815 L1164.3,816.5 L1170.2,817.9 L1175,817.9 L1177.4,815.4 L1183.3,812.5 L1190.6,809.6 L1197.9,805.2 L1205.2,796.4 L1211,789.1 L1216.9,784.7 L1224.2,780.3 L1231.5,773 L1238.8,762.8 L1246.1,755.5 L1253.4,746.7 L1260.7,738 L1268,727.8 L1275.3,719 L1282.6,708.8 L1288.8,701.4 L1296.1,691.2 L1303.4,681 L1310.7,672.2 L1318,666.4 L1325.3,664.2 L1334.1,662.7 L1339.9,664.2 L1347.2,664.2 L1354.5,665.6 L1360.3,665.6 L1369.1,670 L1376.4,676.6 L1383.7,683.9 L1389.1,688.7 L1394.9,694.6 L1400.8,700.4 L1406.6,705.5 L1412.5,709.2 L1416.9,713.6 L1422.7,719.4 L1428.5,726.7 L1434.4,734 L1440.2,739.9 L1446.1,748.6 L1451.9,755.9 L1457.8,763.2 L1458.4,765 L1464.3,770.9 L1470.1,775.3 L1476,777.4 L1481.8,779.6 L1487.6,785.5 L1493.5,791.3 L1499.3,794.2 L1505.2,797.2 L1511,797.9 L1516.9,798.6 L1524.2,797.9 L1531.5,796.4 L1538.8,795 L1546.1,794.2 L1553.4,794.2 L1560.7,792.8 L1568,790.6 L1575.3,789.9 L1582.6,790.6 L1589.9,789.9 L1597.2,789.1 L1604.5,789.9 L1611.8,789.1 L1619.1,788.4 L1626.4,787.7 L1633.7,787.7 L1640,788.4" fill="none" stroke="#c81000" stroke-width="2.3" stroke-linejoin="round"/><path d="M940.5,896 L940.8,900.2 L942.3,914.8 L943.8,920.6 L947.4,926.5 L949.6,920.6 L951.8,909 L954,900.2 L956.2,891.4 L958.4,882.7 L960.6,881.2 L964.2,887 L967.1,883.4 L970.1,887 L974.4,892.9 L978.8,889.2 L983.2,887.8 L987.6,887 L990.5,882.7 L994.9,873.9 L999.3,863.7 L1003.7,859.3 L1008,856.4 L1011,847.6 L1015.3,840.3 L1019.7,838.8 L1024.1,831.1 L1029.9,826.7 L1035.8,823.8 L1041.6,819.4 L1047.5,815 L1050.4,809.2 L1053.3,804.8 L1059.2,802.6 L1065,801.9 L1070.8,799.7 L1076.7,800.4 L1081.1,799 L1086.9,795.3 L1092.8,796.8 L1098.6,797.5 L1104.4,801.1 L1110.3,802.6 L1117.6,804.1 L1124.9,805.5 L1132.2,807.7 L1139.5,808.5 L1145.3,807.7 L1149.7,806.3 L1154.1,808.5 L1161.4,809.9 L1168.7,812.1 L1175,810.6 L1177.4,810 L1183.5,806.3 L1189.6,803.9 L1195.6,799 L1201.7,792.9 L1207.8,785.6 L1213.9,782 L1220,777.1 L1226.1,772.2 L1232.2,763.7 L1237.6,756.9 L1247.4,747.1 L1257.1,739.3 L1266.9,723.8 L1276.6,710.1 L1286.3,700.4 L1296.1,692.6 L1305.8,684.8 L1315.6,679 L1325.3,675.1 L1335,675.1 L1342.8,675.1 L1350.1,676.6 L1357.4,681 L1366.2,686.8 L1373.5,691.2 L1380.8,697 L1387.6,701.9 L1394.9,706.3 L1402.3,709.2 L1409.6,712.1 L1415.4,717.9 L1419.8,725.3 L1425.6,732.6 L1431.5,739.9 L1438.8,745.7 L1444.6,751.5 L1450.5,758.8 L1456.3,767.6 L1458.4,767.9 L1465.7,775.3 L1473,781.1 L1480.3,786.2 L1487.6,792.8 L1494.9,799.4 L1502.3,802.3 L1509.6,803 L1516.9,804.5 L1524.2,804.5 L1531.5,803.7 L1538.8,803 L1546.1,803 L1553.4,803 L1560.7,800.8 L1568,797.9 L1575.3,795 L1582.6,792.8 L1589.9,792.1 L1597.2,791.3 L1604.5,791.3 L1611.8,790.6 L1619.1,790.6 L1627.9,789.9 L1640,789.9" fill="none" stroke="#3ab000" stroke-width="2.3" stroke-linejoin="round"/><path d="M940.5,868 L943.8,906 L946,926.5 L948.1,933.8 L951.1,927.9 L954,927.9 L958.4,932.3 L962.8,933.8 L967.1,932.3 L971.5,930.1 L975.9,927.9 L978.8,920.6 L981.7,916.3 L986.1,910.4 L990.5,901.7 L994.9,895.8 L999.3,885.6 L1003.7,876.8 L1008,868.1 L1011,859.3 L1015.3,849.1 L1019.7,840.3 L1025.6,828.2 L1031.4,819.4 L1037.3,812.1 L1040.2,806.3 L1044.6,801.9 L1048.9,797.5 L1053.3,793.1 L1057.7,788.7 L1063.5,788 L1069.4,787.3 L1075.2,786.5 L1081.1,787.3 L1086.9,786.5 L1092.8,788 L1097.1,790.2 L1103,794.6 L1110.3,799 L1117.6,803.3 L1124.9,806.3 L1132.2,809.2 L1139.5,811.4 L1146.8,812.1 L1154.1,813.6 L1161.4,814.3 L1168.7,814.3 L1175,813.6 L1180.3,813.9 L1187.6,811 L1194.9,808.1 L1202.3,802.3 L1208.1,796.4 L1212.3,792.9 L1226,786.1 L1233.7,774.4 L1243.5,762.7 L1253.2,753 L1259.1,743.2 L1266.9,729.6 L1274.7,717.9 L1282.4,704.3 L1290.2,692.6 L1298,680.9 L1305.8,675.1 L1315.6,671.2 L1316.5,671.5 L1323.8,668.6 L1329.7,667.8 L1335.5,665.6 L1339.9,667.8 L1347.2,673.7 L1354.5,675.9 L1361.8,678.1 L1367.7,678.1 L1375,681 L1382.3,686.8 L1387.6,691.7 L1393.5,696 L1399.3,701.9 L1405.2,706.3 L1411,712.1 L1416.9,717.9 L1422.7,723.8 L1428.5,731.1 L1434.4,738.4 L1440.2,744.2 L1446.1,750.1 L1451.9,755.9 L1457.8,763.2 L1458.4,765 L1465.7,773.8 L1473,779.6 L1480.3,784 L1487.6,791.3 L1494.9,798.6 L1502.3,803 L1509.6,806.7 L1516.9,807.4 L1524.2,806.7 L1531.5,804.5 L1538.8,801.5 L1546.1,800.1 L1553.4,799.4 L1560.7,797.9 L1568,795.7 L1575.3,793.5 L1582.6,792.8 L1589.9,792.1 L1597.2,790.6 L1604.5,791.3 L1611.8,791.3 L1619.1,789.9 L1627.9,788.4 L1633.7,787.7 L1640,788.4" fill="none" stroke="#880099" stroke-width="2.3" stroke-linejoin="round"/><path d="M939.3,555 V1024 M931.3,789.5 H1641.4 M931.3,1024 H939.3 M931.3,977.1 H939.3 M931.3,930.2 H939.3 M931.3,883.3 H939.3 M931.3,836.4 H939.3 M931.3,742.6 H939.3 M931.3,695.7 H939.3 M931.3,648.8 H939.3 M931.3,601.9 H939.3 M931.3,555 H939.3 M970.9,789.5 v8 M986.9,789.5 v4.5 M1002.8,789.5 v4.5 M1018.8,789.5 v4.5 M1034.8,789.5 v4.5 M1050.7,789.5 v4.5 M1066.7,789.5 v4.5 M1082.7,789.5 v4.5 M1098.6,789.5 v4.5 M1114.6,789.5 v4.5 M1130.5,789.5 v8 M1146.5,789.5 v4.5 M1162.5,789.5 v4.5 M1178.4,789.5 v4.5 M1194.4,789.5 v4.5 M1210.4,789.5 v4.5 M1226.3,789.5 v4.5 M1242.3,789.5 v4.5 M1258.3,789.5 v4.5 M1274.2,789.5 v4.5 M1290.2,789.5 v8 M1306.2,789.5 v4.5 M1322.1,789.5 v4.5 M1338.1,789.5 v4.5 M1354.1,789.5 v4.5 M1370,789.5 v4.5 M1386,789.5 v4.5 M1402,789.5 v4.5 M1417.9,789.5 v4.5 M1433.9,789.5 v4.5 M1449.8,789.5 v8 M1465.8,789.5 v4.5 M1481.8,789.5 v4.5 M1497.7,789.5 v4.5 M1513.7,789.5 v4.5 M1529.7,789.5 v4.5 M1545.6,789.5 v4.5 M1561.6,789.5 v4.5 M1577.6,789.5 v4.5 M1593.5,789.5 v4.5 M1609.5,789.5 v8 M1625.5,789.5 v4.5" fill="none" stroke="#000" stroke-width="2"/><text x="927.6" y="1030" font-size="20.2" text-anchor="end" class="r">-10</text><text x="927.6" y="983.1" font-size="20.2" text-anchor="end" class="r">-8</text><text x="927.6" y="936.2" font-size="20.2" text-anchor="end" class="r">-6</text><text x="927.6" y="889.3" font-size="20.2" text-anchor="end" class="r">-4</text><text x="927.6" y="842.4" font-size="20.2" text-anchor="end" class="r">-2</text><text x="927.6" y="795.5" font-size="20.2" text-anchor="end" class="r">0</text><text x="927.6" y="748.6" font-size="20.2" text-anchor="end" class="r">2</text><text x="927.6" y="701.7" font-size="20.2" text-anchor="end" class="r">4</text><text x="927.6" y="654.8" font-size="20.2" text-anchor="end" class="r">6</text><text x="927.6" y="607.9" font-size="20.2" text-anchor="end" class="r">8</text><text x="927.6" y="561" font-size="20.2" text-anchor="end" class="r">10</text><text x="970.9" y="816.5" font-size="20.2" text-anchor="middle" class="r">210</text><text x="1130.5" y="816.5" font-size="20.2" text-anchor="middle" class="r">235</text><text x="1290.2" y="816.5" font-size="20.2" text-anchor="middle" class="r">260</text><text x="1449.8" y="816.5" font-size="20.2" text-anchor="middle" class="r">285</text><text x="1609.5" y="816.5" font-size="20.2" text-anchor="middle" class="r">310</text><text x="1289.3" y="851.9" font-size="22.4" font-weight="bold" text-anchor="middle">wavelength (nm)</text><text transform="translate(883.7,779) rotate(-90)" font-size="22.7" font-weight="bold" text-anchor="middle">CD (medg)</text><text x="958.7" y="612.6" font-size="83.8" fill="#141414">D</text><path d="M1534.9,593.4 H1574.9" stroke="#58cac6" stroke-width="2.2"/><text transform="translate(1579.9,600.3) scale(0.955,1)" font-size="23.6" class="r">M10</text><path d="M1534.9,621.3 H1574.9" stroke="#c81000" stroke-width="2.2"/><text transform="translate(1579.9,628.2) scale(0.955,1)" font-size="23.6" class="r">M18</text><path d="M1534.9,649.4 H1574.9" stroke="#3ab000" stroke-width="2.2"/><text transform="translate(1579.9,656.3) scale(0.955,1)" font-size="23.6" class="r">M20</text><path d="M1534.9,678 H1574.9" stroke="#880099" stroke-width="2.2"/><text transform="translate(1579.9,684.9) scale(0.955,1)" font-size="23.6" class="r">M22</text></g>
</svg></body></html>
